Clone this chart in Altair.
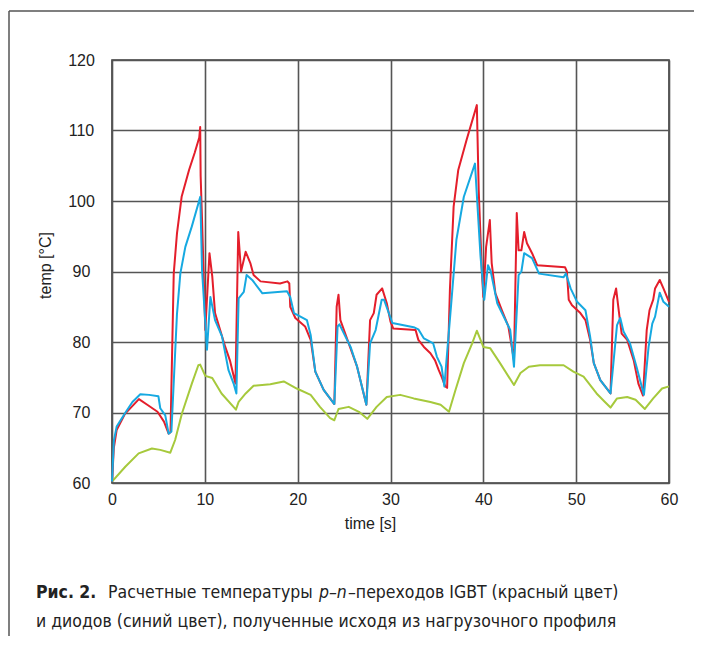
import altair as alt
import pandas as pd

# ---- data ----
igbt_t = [0, 0.2, 0.5, 1.4, 2.9, 3.8, 4.9, 5.6, 6.1, 6.3, 6.65, 7.0, 7.5, 8.3, 8.9, 9.4, 9.5,
          9.55, 9.7, 10.05, 10.5, 10.8, 11.1, 12.2, 12.7, 13.3, 13.6, 13.9, 14.4, 14.9, 15.25,
          16.0, 18.1, 18.9, 19.1, 19.2, 19.75, 20.8, 21.4, 21.9, 22.8, 23.95, 24.2, 24.4, 24.6,
          25.5, 26.4, 27.4, 27.8, 28.2, 28.5, 29.1, 29.6, 30.0, 30.3, 32.7, 33.0, 33.6, 34.3,
          34.8, 35.2, 35.5, 35.9, 36.1, 36.4, 36.8, 37.3, 38.2, 39.3, 39.5, 39.85, 40.0, 40.3,
          40.7, 40.9, 41.3, 42.0, 42.7, 43.3, 43.6, 43.8, 44.1, 44.4, 44.7, 45.25, 45.8, 48.8,
          49.0, 49.2, 49.55, 50.45, 51.0, 51.5, 51.9, 52.6, 53.7, 54.0, 54.3, 54.6, 54.9, 55.5,
          56.2, 56.7, 57.2, 57.6, 57.9, 58.3, 58.5, 59.0, 59.4, 60.0]
igbt_temp = [60.2, 65.0, 67.5, 69.8, 71.9, 71.1, 70.1, 68.7, 67.0, 67.2, 89.7, 95.4, 100.6, 104.4,
             106.8, 109.0, 110.5, 103.5, 97.3, 81.7, 92.6, 89.3, 84.1, 79.3, 77.4, 74.1, 95.6, 90.0,
             92.8, 91.2, 89.5, 88.6, 88.3, 88.6, 88.3, 85.0, 83.4, 82.2, 80.3, 75.8, 73.2, 71.2,
             85.0, 86.7, 83.1, 79.8, 76.5, 71.1, 83.1, 84.1, 86.7, 87.6, 85.5, 82.9, 81.9, 81.7,
             80.3, 79.3, 78.4, 77.4, 76.0, 75.1, 73.7, 73.5, 87.4, 99.2, 104.4, 108.7, 113.6,
             101.6, 89.7, 86.4, 93.5, 97.3, 91.2, 86.9, 84.5, 82.2, 77.4, 98.3, 93.0, 93.0, 95.6,
             94.0, 92.6, 90.9, 90.6, 90.0, 86.0, 85.2, 84.1, 83.1, 80.3, 77.0, 74.6, 72.7, 86.0,
             87.6, 84.3, 81.2, 80.3, 77.4, 74.1, 72.4, 81.7, 84.5, 86.0, 87.6, 88.8, 87.6, 85.7]

diode_t = [0, 0.2, 0.5, 1.4, 2.2, 3.05, 4.0, 5.0, 5.2, 5.74, 6.1, 6.4, 7.0, 7.36, 7.9, 8.6, 9.51,
           9.7, 10.23, 10.6, 11.1, 11.85, 12.55, 13.1, 13.4, 13.64, 14.2, 14.5, 15.1, 16.2, 18.85,
           19.2, 19.6, 21.0, 21.4, 21.9, 22.8, 23.95, 24.3, 24.5, 25.7, 26.4, 27.4, 27.8, 28.4,
           29.05, 29.3, 30.2, 32.5, 33.0, 33.6, 34.6, 35.0, 35.5, 35.8, 36.6, 37.1, 37.9, 39.1,
           39.7, 40.1, 40.5, 40.8, 41.5, 42.9, 43.3, 43.8, 44.1, 44.4, 45.25, 46.0, 48.65, 48.9,
           49.4, 50.1, 51.0, 51.5, 51.9, 52.6, 53.7, 54.4, 54.75, 55.1, 55.8, 56.5, 57.3, 57.8,
           58.2, 58.5, 59.0, 59.4, 60.0]
diode_temp = [60.2, 66.0, 68.0, 69.9, 71.5, 72.6, 72.5, 72.3, 70.6, 69.6, 67.0, 67.3, 84.0, 89.7,
              93.5, 96.4, 100.6, 90.2, 78.9, 86.4, 83.1, 80.8, 76.0, 74.1, 72.7, 86.2, 87.1, 89.5,
              88.8, 86.9, 87.2, 86.4, 84.1, 83.1, 81.0, 75.8, 73.2, 71.2, 82.2, 82.5, 79.3, 76.5,
              71.1, 79.8, 81.7, 86.0, 86.0, 82.7, 82.1, 81.8, 80.5, 79.8, 77.9, 76.5, 73.7, 86.4,
              94.5, 100.6, 105.3, 92.1, 86.0, 90.9, 90.0, 85.5, 81.7, 76.5, 89.5, 90.0, 92.6, 91.9,
              89.7, 89.2, 89.7, 87.6, 85.7, 84.5, 80.8, 77.0, 74.6, 72.7, 82.4, 83.4, 81.5, 79.8,
              76.5, 72.5, 79.3, 82.6, 83.6, 87.0, 85.7, 85.0]

base_t = [0, 1.43, 2.87, 4.3, 5.2, 6.28, 6.8, 7.54, 8.6, 9.3, 9.5, 10.05, 10.8, 11.8, 13.35, 13.64,
          14.4, 15.25, 17.05, 18.5, 19.9, 21.4, 22.4, 23.5, 23.95, 24.4, 25.5, 26.6, 27.5, 28.5,
          29.6, 31.05, 32.5, 34.3, 35.4, 36.3, 37.0, 37.9, 38.8, 39.3, 40.0, 40.75, 41.8, 43.3,
          44.0, 44.9, 46.1, 48.65, 49.7, 50.8, 52.2, 53.1, 53.7, 54.4, 55.5, 56.4, 57.4, 58.3,
          59.25, 60.0]
base_temp = [60.2, 62.3, 64.2, 64.9, 64.7, 64.3, 66.1, 69.9, 74.1, 76.7, 76.8, 75.2, 74.9, 72.7,
             70.4, 71.5, 72.7, 73.8, 74.0, 74.4, 73.4, 72.5, 70.8, 69.2, 68.9, 70.5, 70.8, 70.1,
             69.1, 70.8, 72.2, 72.5, 72.0, 71.5, 71.1, 70.1, 73.2, 77.0, 79.8, 81.6, 79.3, 79.1,
             77.0, 73.9, 75.6, 76.5, 76.7, 76.7, 75.8, 75.1, 72.7, 71.5, 70.7, 72.0, 72.2, 71.8,
             70.5, 72.0, 73.4, 73.7]

series_names = ["base", "igbt", "diode"]
series_colors = ["#a6c93c", "#e41e2b", "#16a9e1"]

x_ticks = [0, 10, 20, 30, 40, 50, 60]
y_ticks = [60, 70, 80, 90, 100, 110, 120]

caption_bold = "Рис. 2."
caption_1a = "Расчетные температуры"
caption_1b = "p–n"
caption_1c = "–переходов IGBT (красный цвет)"
caption_2 = "и диодов (синий цвет), полученные исходя из нагрузочного профиля"

# ---- build table ----
rows = []
for name, ts, vs in [("base", base_t, base_temp), ("igbt", igbt_t, igbt_temp), ("diode", diode_t, diode_temp)]:
    for i, (t, v) in enumerate(zip(ts, vs)):
        rows.append({"series": name, "t": t, "temp": v, "idx": i})
df = pd.DataFrame(rows)

W, H = 557, 423
AX_FONT = "Liberation Sans, Arial, sans-serif"
CAP_FONT = "DejaVu Sans Condensed, DejaVu Sans, sans-serif"

lines = alt.Chart(df).mark_line(strokeWidth=2, strokeJoin="round").encode(
    x=alt.X("t:Q", scale=alt.Scale(domain=[0, 60], nice=False),
            axis=alt.Axis(values=x_ticks, title="time [s]", grid=True, ticks=False, tickSize=0,
                          domain=False, labelPadding=8, labelFontSize=16, labelFont=AX_FONT,
                          labelColor="#222", titleFontSize=16, titleFont=AX_FONT,
                          titleFontWeight="normal", titleColor="#222", titleX=258, titleY=40,
                          titleBaseline="middle", titleAlign="center", labelFlush=False)),
    y=alt.Y("temp:Q", scale=alt.Scale(domain=[60, 120], nice=False),
            axis=alt.Axis(values=y_ticks, title="temp [°C]", grid=True, ticks=False, tickSize=0,
                          domain=False, labelPadding=31, labelAlign="center",
                          labelBaseline="middle", labelFontSize=16, labelFont=AX_FONT,
                          labelColor="#222", titleFontSize=16, titleFont=AX_FONT,
                          titleFontWeight="normal", titleColor="#222", titleX=-67, titleY=205,
                          titleAngle=270, titleAlign="center", titleBaseline="middle",
                          labelFlush=False)),
    color=alt.Color("series:N", scale=alt.Scale(domain=series_names, range=series_colors),
                    legend=None),
    order=alt.Order("idx:Q"),
    detail="series:N",
)
layers = [lines.transform_filter(alt.datum.series == name) for name in series_names]

one = pd.DataFrame({"a": [0]})
frame_v = alt.Chart(one).mark_rule(color="#555", strokeWidth=1.5).encode(
    x=alt.value(-103), y=alt.value(-49), y2=alt.value(600))
frame_h = alt.Chart(one).mark_rule(color="#555", strokeWidth=1.5).encode(
    x=alt.value(-103), x2=alt.value(600), y=alt.value(-49))


def cap(text, x, y, weight="normal", style="normal"):
    return alt.Chart(one).mark_text(align="left", baseline="alphabetic", font=CAP_FONT,
                                    fontSize=17.5, fontWeight=weight, fontStyle=style,
                                    color="#222").encode(
        x=alt.value(x), y=alt.value(y), text=alt.value(text))


captions = [
    cap(caption_bold, -76, 538, weight="bold"),
    cap(caption_1a, -4, 538),
    cap(caption_1b, 207, 538, style="italic"),
    cap(caption_1c, 236, 538),
    cap(caption_2, -76, 567),
]

chart = alt.layer(frame_v, frame_h, *layers, *captions).properties(
    width=W, height=H,
    autosize=alt.AutoSizeParams(type="none"),
    padding={"left": 104, "top": 52, "right": 25, "bottom": 153},
).configure_view(stroke="#3a3a3a", strokeWidth=1.6).configure_axis(
    gridColor="#555", gridWidth=1.6, gridOpacity=1)

chart.save("out.html", embed_options={"renderer": "svg", "actions": False})
